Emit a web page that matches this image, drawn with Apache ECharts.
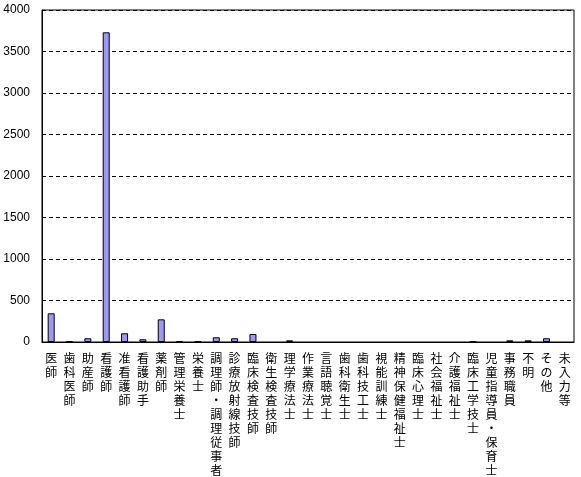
<!DOCTYPE html>
<html>
<head>
<meta charset="utf-8">
<script src="https://cdn.jsdelivr.net/npm/echarts@6/dist/echarts.min.js"></script>
<style>html,body{margin:0;padding:0;background:#fff;}#c{width:581px;height:477px;}</style>
</head>
<body>
<div id="c"></div>
<script>
const categories = ['医師','歯科医師','助産師','看護師','准看護師','看護助手','薬剤師','管理栄養士','栄養士','調理師・調理従事者','診療放射線技師','臨床検査技師','衛生検査技師','理学療法士','作業療法士','言語聴覚士','歯科衛生士','歯科技工士','視能訓練士','精神保健福祉士','臨床心理士','社会福祉士','介護福祉士','臨床工学技士','児童指導員・保育士','事務職員','不明','その他','未入力等'];
const values = [346, 8, 45, 3731, 105, 33, 273, 8, 8, 57, 45, 96, 0, 20, 0, 0, 0, 0, 0, 0, 0, 0, 0, 8, 0, 20, 20, 45, 0];
const yTicks = {min: 0, max: 4000, interval: 500};

const chart = echarts.init(document.getElementById('c'));
chart.setOption({
  animation: false,
  grid: {left: 42, right: 7, top: 10, bottom: 135, show: true, borderColor: '#000', borderWidth: 1, containLabel: false},
  xAxis: {
    type: 'category',
    data: categories,
    axisLine: {lineStyle: {color: '#000', width: 1}},
    axisTick: {show: false},
    axisLabel: {
      interval: 0,
      margin: 9,
      color: '#000',
      fontFamily: 'Noto Sans CJK JP',
      fontSize: 12,
      lineHeight: 14,
      verticalAlign: 'top',
      formatter: v => v.split('').join('\n')
    }
  },
  yAxis: {
    type: 'value',
    min: yTicks.min, max: yTicks.max, interval: yTicks.interval,
    axisLine: {show: true, lineStyle: {color: '#000', width: 1}},
    axisTick: {show: false},
    axisLabel: {color: '#000', fontFamily: 'Liberation Sans', fontSize: 12, margin: 12, formatter: v => String(v)},
    splitLine: {show: true, lineStyle: {color: '#000', type: [4, 3], width: 1}}
  },
  series: [{
    type: 'bar',
    data: values.map(v => v === 0 ? null : v),
    barWidth: 7,
    itemStyle: {color: '#9999ff', borderColor: '#000', borderWidth: 1}
  }]
});
</script>
</body>
</html>
